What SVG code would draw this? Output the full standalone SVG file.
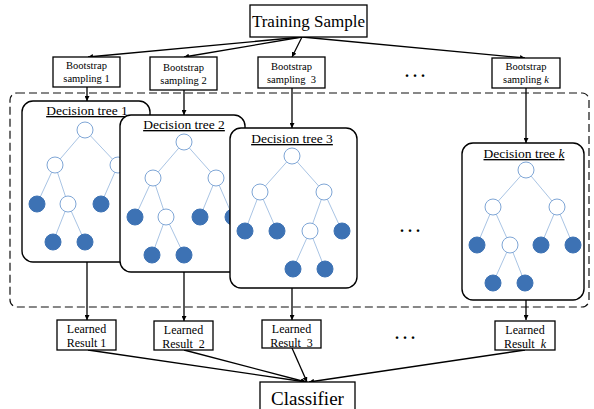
<svg xmlns="http://www.w3.org/2000/svg" width="594" height="409" viewBox="0 0 594 409">
<defs>
<marker id="ah" viewBox="0 0 6 6" refX="6" refY="3" markerWidth="5" markerHeight="5" orient="auto" markerUnits="userSpaceOnUse">
<path d="M0,0 L6,3 L0,6 z" fill="#000"/>
</marker>
<style>
.box{fill:#fff;stroke:#000;stroke-width:1.3}
.tree{fill:#fff;stroke:#000;stroke-width:1.4}
.t{font-family:"Liberation Serif",serif;fill:#000;text-anchor:middle;white-space:pre}
.s{font-size:10.5px}
.lr{font-size:12px}
.tt{font-size:13.5px;text-decoration:underline}
.e{stroke:#a9c4e4;stroke-width:1}
.o{fill:#fff;stroke:#7fa6d6;stroke-width:1}
.f{fill:#3d72b4;stroke:#3d72b4;stroke-width:1}
.c{stroke:#000;stroke-width:1.3;fill:none}
.dots{font-family:"Liberation Serif",serif;font-size:16px;font-weight:bold;text-anchor:middle}
</style>
</defs>
<rect x="10" y="93" width="579" height="214" rx="7" fill="none" stroke="#111" stroke-width="1.2" stroke-dasharray="8,4"/>
<g id="connectors">
<line class="c" x1="302" y1="37" x2="88" y2="57" marker-end="url(#ah)"/>
<line class="c" x1="302" y1="37" x2="184" y2="57" marker-end="url(#ah)"/>
<line class="c" x1="302" y1="37" x2="292" y2="57" marker-end="url(#ah)"/>
<line class="c" x1="302" y1="37" x2="525" y2="58" marker-end="url(#ah)"/>
<line class="c" x1="87" y1="87" x2="87" y2="101" marker-end="url(#ah)"/>
<line class="c" x1="184" y1="90" x2="184" y2="115" marker-end="url(#ah)"/>
<line class="c" x1="292" y1="88" x2="292" y2="128" marker-end="url(#ah)"/>
<line class="c" x1="526" y1="88" x2="526" y2="143" marker-end="url(#ah)"/>
<line class="c" x1="87" y1="262" x2="87" y2="320" marker-end="url(#ah)"/>
<line class="c" x1="184" y1="272" x2="184" y2="321" marker-end="url(#ah)"/>
<line class="c" x1="292" y1="288" x2="292" y2="320" marker-end="url(#ah)"/>
<line class="c" x1="526" y1="300" x2="526" y2="320" marker-end="url(#ah)"/>
<line class="c" x1="88" y1="350" x2="306" y2="382" marker-end="url(#ah)"/>
<line class="c" x1="184" y1="350" x2="306" y2="382" marker-end="url(#ah)"/>
<line class="c" x1="292" y1="348" x2="307" y2="382" marker-end="url(#ah)"/>
<line class="c" x1="525" y1="350" x2="309" y2="382" marker-end="url(#ah)"/>
</g>
<g id="training-sample">
<rect class="box" x="250" y="5" width="117" height="32"/>
<text class="t" x="308.5" y="27" font-size="17">Training Sample</text>
</g>
<g id="bootstrap-1">
<rect class="box" x="53" y="57" width="67" height="30"/>
<text class="t s" x="86.5" y="69">Bootstrap</text>
<text class="t s" x="86.5" y="82">sampling 1</text>
</g>
<g id="bootstrap-2">
<rect class="box" x="150" y="57" width="67" height="33"/>
<text class="t s" x="183.5" y="71">Bootstrap</text>
<text class="t s" x="183.5" y="84">sampling 2</text>
</g>
<g id="bootstrap-3">
<rect class="box" x="258" y="57" width="67" height="31"/>
<text class="t s" x="291.5" y="70">Bootstrap</text>
<text class="t s" x="291.5" y="83">sampling  3</text>
</g>
<text class="dots" x="415" y="77">. . .</text>
<g id="bootstrap-k">
<rect class="box" x="492" y="58" width="68" height="30"/>
<text class="t s" x="526" y="70">Bootstrap</text>
<text class="t s" x="526" y="83">sampling <tspan font-style="italic">k</tspan></text>
</g>
<g id="decision-tree-1">
<rect class="tree" x="22" y="101" width="128" height="161" rx="11"/>
<text class="t tt" x="87" y="115">Decision tree 1</text>
<g class="e">
<line x1="85" y1="130" x2="55" y2="165"/><line x1="85" y1="130" x2="118" y2="165"/>
<line x1="55" y1="165" x2="37" y2="204"/><line x1="55" y1="165" x2="68" y2="204"/>
<line x1="118" y1="165" x2="101" y2="204"/><line x1="118" y1="165" x2="134" y2="204"/>
<line x1="68" y1="204" x2="53" y2="242"/><line x1="68" y1="204" x2="85" y2="242"/>
</g>
<circle class="o" cx="85" cy="130" r="8"/>
<circle class="o" cx="55" cy="165" r="8"/><circle class="o" cx="118" cy="165" r="8"/>
<circle class="f" cx="37" cy="204" r="8"/><circle class="o" cx="68" cy="204" r="8"/><circle class="f" cx="101" cy="204" r="8"/>
<circle class="f" cx="53" cy="242" r="8"/><circle class="f" cx="85" cy="242" r="8"/>
</g>
<g id="decision-tree-2">
<rect class="tree" x="120" y="115" width="125" height="157" rx="11"/>
<text class="t tt" x="184" y="129">Decision tree 2</text>
<g class="e">
<line x1="184" y1="142" x2="153" y2="178"/><line x1="184" y1="142" x2="216" y2="178"/>
<line x1="153" y1="178" x2="135" y2="217"/><line x1="153" y1="178" x2="166" y2="217"/>
<line x1="216" y1="178" x2="200" y2="217"/><line x1="216" y1="178" x2="233" y2="217"/>
<line x1="166" y1="217" x2="152" y2="255"/><line x1="166" y1="217" x2="184" y2="255"/>
</g>
<circle class="o" cx="184" cy="142" r="8"/>
<circle class="o" cx="153" cy="178" r="8"/><circle class="o" cx="216" cy="178" r="8"/>
<circle class="f" cx="135" cy="217" r="8"/><circle class="o" cx="166" cy="217" r="8"/><circle class="f" cx="200" cy="217" r="8"/><circle class="f" cx="233" cy="217" r="8"/>
<circle class="f" cx="152" cy="255" r="8"/><circle class="f" cx="184" cy="255" r="8"/>
</g>
<g id="decision-tree-3">
<rect class="tree" x="230" y="128" width="127" height="160" rx="11"/>
<text class="t tt" x="292" y="143">Decision tree 3</text>
<g class="e">
<line x1="292" y1="156" x2="260" y2="192"/><line x1="292" y1="156" x2="324" y2="192"/>
<line x1="260" y1="192" x2="245" y2="231"/><line x1="260" y1="192" x2="277" y2="231"/>
<line x1="324" y1="192" x2="310" y2="231"/><line x1="324" y1="192" x2="342" y2="231"/>
<line x1="310" y1="231" x2="293" y2="269"/><line x1="310" y1="231" x2="325" y2="269"/>
</g>
<circle class="o" cx="292" cy="156" r="8"/>
<circle class="o" cx="260" cy="192" r="8"/><circle class="o" cx="324" cy="192" r="8"/>
<circle class="f" cx="245" cy="231" r="8"/><circle class="f" cx="277" cy="231" r="8"/><circle class="o" cx="310" cy="231" r="8"/><circle class="f" cx="342" cy="231" r="8"/>
<circle class="f" cx="293" cy="269" r="8"/><circle class="f" cx="325" cy="269" r="8"/>
</g>
<text class="dots" x="410" y="232">. . .</text>
<g id="decision-tree-k">
<rect class="tree" x="462" y="143" width="122" height="157" rx="11"/>
<text class="t tt" x="524" y="158">Decision tree <tspan font-style="italic">k</tspan></text>
<g class="e">
<line x1="526" y1="170" x2="493" y2="207"/><line x1="526" y1="170" x2="557" y2="207"/>
<line x1="493" y1="207" x2="477" y2="245"/><line x1="493" y1="207" x2="510" y2="245"/>
<line x1="557" y1="207" x2="541" y2="245"/><line x1="557" y1="207" x2="573" y2="245"/>
<line x1="510" y1="245" x2="493" y2="283"/><line x1="510" y1="245" x2="525" y2="283"/>
</g>
<circle class="o" cx="526" cy="170" r="8"/>
<circle class="o" cx="493" cy="207" r="8"/><circle class="o" cx="557" cy="207" r="8"/>
<circle class="f" cx="477" cy="245" r="8"/><circle class="o" cx="510" cy="245" r="8"/><circle class="f" cx="541" cy="245" r="8"/><circle class="f" cx="573" cy="245" r="8"/>
<circle class="f" cx="493" cy="283" r="8"/><circle class="f" cx="525" cy="283" r="8"/>
</g>
<g id="learned-result-1">
<rect class="box" x="57" y="320" width="59" height="30"/>
<text class="t lr" x="86.5" y="333">Learned</text>
<text class="t lr" x="86.5" y="347">Result 1</text>
</g>
<g id="learned-result-2">
<rect class="box" x="154" y="321" width="59" height="29"/>
<text class="t lr" x="183.5" y="334">Learned</text>
<text class="t lr" x="183.5" y="348">Result  2</text>
</g>
<g id="learned-result-3">
<rect class="box" x="262" y="320" width="59" height="28"/>
<text class="t lr" x="291.5" y="333">Learned</text>
<text class="t lr" x="291.5" y="347">Result  3</text>
</g>
<text class="dots" x="405" y="339">. . .</text>
<g id="learned-result-k">
<rect class="box" x="495" y="321" width="60" height="29"/>
<text class="t lr" x="525" y="334">Learned</text>
<text class="t lr" x="525" y="348">Result  <tspan font-style="italic">k</tspan></text>
</g>
<g id="classifier">
<rect class="box" x="260" y="382" width="95" height="30"/>
<text class="t" x="307.5" y="405" font-size="19">Classifier</text>
</g>
</svg>
